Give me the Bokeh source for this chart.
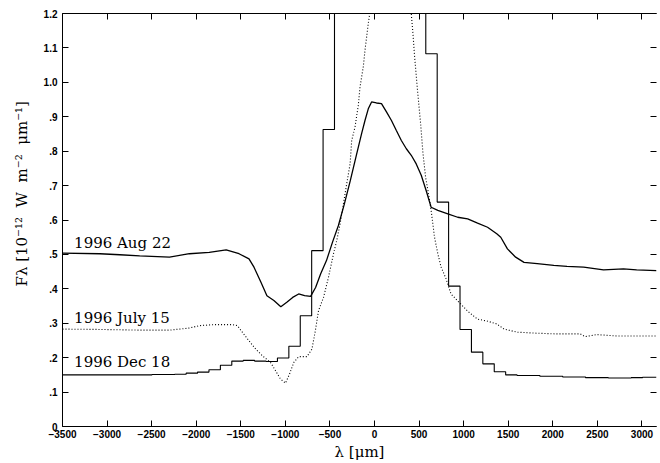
from bokeh.plotting import figure
from bokeh.models import Range1d, LinearAxis, FixedTicker, Label, CustomLabelingPolicy
from bokeh.embed import file_html
from bokeh.resources import INLINE

# ---- data ----
aug_x = [-3500, -3080, -2857, -2634, -2300, -2077, -1854, -1664, -1520, -1408, -1352, -1274,
         -1207, -1129, -1051, -984, -918, -851, -784, -717, -661, -605, -539, -472, -405,
         -338, -271, -204, -145, -107, -70, -33, 22, 78, 134, 190, 245, 301, 357, 412, 468,
         524, 580, 635, 710, 822, 933, 1045, 1156, 1268, 1371, 1416, 1491, 1583, 1677, 1825,
         2011, 2159, 2346, 2569, 2792, 2940, 3163]
aug_y = [0.504, 0.502, 0.499, 0.496, 0.492, 0.502, 0.506, 0.513, 0.502, 0.487, 0.463, 0.419,
         0.380, 0.366, 0.348, 0.361, 0.375, 0.385, 0.380, 0.378, 0.404, 0.443, 0.482, 0.535,
         0.584, 0.647, 0.715, 0.788, 0.851, 0.889, 0.923, 0.943, 0.940, 0.938, 0.914, 0.889,
         0.860, 0.831, 0.807, 0.788, 0.763, 0.730, 0.685, 0.637, 0.628, 0.618, 0.608, 0.603,
         0.591, 0.579, 0.560, 0.550, 0.516, 0.492, 0.477, 0.473, 0.468, 0.465, 0.463, 0.455,
         0.458, 0.455, 0.453]

jul_x = [-3500, -3080, -2634, -2300, -2077, -1966, -1798, -1594, -1538, -1483, -1408, -1333,
         -1260, -1166, -1110, -1055, -999, -954, -906, -851, -758, -702, -664, -628, -572,
         -516, -460, -424, -386, -349, -312, -274, -256, -219, -182, -163, -126, -107, -70,
         -51, 0, 100, 200, 300, 412, 431, 450, 479, 517, 543, 573, 599, 635, 673, 710, 747,
         803, 858, 933, 1045, 1156, 1268, 1371, 1454, 1602, 1825, 2048, 2308, 2363, 2494,
         2717, 2940, 3163]
jul_y = [0.283, 0.282, 0.280, 0.280, 0.286, 0.293, 0.296, 0.296, 0.293, 0.274, 0.249, 0.225,
         0.206, 0.186, 0.162, 0.138, 0.126, 0.152, 0.186, 0.203, 0.203, 0.225, 0.278, 0.337,
         0.375, 0.434, 0.502, 0.540, 0.589, 0.647, 0.705, 0.763, 0.831, 0.870, 0.933, 0.986,
         1.045, 1.093, 1.171, 1.205, 1.35, 1.5, 1.5, 1.35, 1.200, 1.142, 1.074, 0.986, 0.880,
         0.795, 0.724, 0.686, 0.628, 0.550, 0.502, 0.463, 0.429, 0.385, 0.365, 0.335, 0.312,
         0.306, 0.298, 0.283, 0.274, 0.271, 0.269, 0.269, 0.261, 0.267, 0.263, 0.263, 0.263]

dec_x = [-3500, -2497, -2241, -2113, -1985, -1857, -1729, -1601, -1473, -1345, -1217, -1089,
         -961, -833, -705, -577, -449, -321, -193, -65, 63, 191, 319, 447, 575, 703, 831, 959,
         1087, 1215, 1343, 1471, 1599, 1855, 2111, 2367, 2623, 2879, 3007, 3163]
dec_y = [0.150, 0.151, 0.152, 0.155, 0.158, 0.165, 0.178, 0.190, 0.192, 0.190, 0.189, 0.199,
         0.233, 0.322, 0.511, 0.863, 1.40, 1.70, 1.90, 2.00, 1.90, 1.70, 1.50, 1.30, 1.083,
         0.652, 0.408, 0.282, 0.216, 0.182, 0.159, 0.150, 0.148, 0.146, 0.144, 0.142, 0.141,
         0.142, 0.143, 0.143]

x_ticks = [-3500, -3000, -2500, -2000, -1500, -1000, -500, 0, 500, 1000, 1500, 2000, 2500, 3000]
x_tick_labels = ["\u22123500", "\u22123000", "\u22122500", "\u22122000", "\u22121500",
                 "\u22121000", "\u2212500", "0", "500", "1000", "1500", "2000", "2500", "3000"]
y_ticks = [0, 0.1, 0.2, 0.3, 0.4, 0.5, 0.6, 0.7, 0.8, 0.9, 1.0, 1.1, 1.2]
y_tick_labels = ["0", ".1", ".2", ".3", ".4", ".5", ".6", ".7", ".8", ".9", "1.0", "1.1", "1.2"]

series_labels = ["1996 Aug 22", "1996 July 15", "1996 Dec 18"]

NB = "\u00a0"
y_label = (NB * 11 + "F\u03bb" + NB + "[10\u207b\u00b9\u00b2" + NB * 2 + "W" + NB * 2 +
           "m\u207b\u00b2" + NB * 2 + "\u03bcm\u207b\u00b9]")
x_label = "\u03bb" + NB + "[\u03bcm]"

p = figure(width=660, height=463, output_backend="svg", toolbar_location=None,
           x_range=Range1d(-3500, 3163), y_range=Range1d(0, 1.2),
           min_border_left=62, min_border_right=0, min_border_top=13, min_border_bottom=37)
p.outline_line_color = None
p.xgrid.visible = False
p.ygrid.visible = False
p.background_fill_color = "white"
p.border_fill_color = "white"

xt = FixedTicker(ticks=x_ticks, minor_ticks=[])
yt = FixedTicker(ticks=y_ticks, minor_ticks=[])

bottom = p.below[0]
left = p.left[0]
bottom.ticker = xt
left.ticker = yt
bottom.major_label_overrides = {t: l for t, l in zip(x_ticks, x_tick_labels)}
left.major_label_overrides = {t: l for t, l in zip(y_ticks, y_tick_labels)}
bottom.axis_label = x_label
left.axis_label = y_label

hide = "for (const i of [...indices]) { indices.unset(i) }\nreturn indices"
top = LinearAxis(ticker=xt, major_label_text_font_size="1px", major_label_standoff=0,
                 major_label_policy=CustomLabelingPolicy(code=hide))
right = LinearAxis(ticker=yt, major_label_text_font_size="1px", major_label_standoff=0,
                   major_label_policy=CustomLabelingPolicy(code=hide), axis_line_color=None)
p.add_layout(top, "above")
p.add_layout(right, "right")

for ax in [bottom, left, top, right]:
    ax.major_tick_in = 6
    ax.major_tick_out = 0
    ax.minor_tick_in = 0
    ax.minor_tick_out = 0
    ax.major_tick_line_color = "black"
    ax.major_label_text_font = "Liberation Sans"
    ax.major_label_text_font_style = "bold"
    ax.major_label_text_color = "black"
    ax.axis_label_text_font = "DejaVu Serif"
    ax.axis_label_text_font_style = "normal"
    ax.axis_label_text_font_size = "15px"
    ax.axis_label_text_color = "black"
bottom.major_label_text_font_size = "10px"
left.major_label_text_font_size = "10px"
top.axis_line_color = "black"
bottom.axis_line_color = "black"
left.axis_line_color = "black"
bottom.major_label_standoff = 3
bottom.axis_label_standoff = 2
left.major_label_standoff = 5
left.axis_label_standoff = 10

p.step(dec_x, dec_y, mode="after", line_color="black", line_width=1.1)
p.line(aug_x, aug_y, line_color="black", line_width=1.3)
p.line(jul_x, jul_y, line_color="black", line_width=1.1, line_dash="1 2")

label_pos = [(-3370, 0.532), (-3370, 0.315), (-3370, 0.186)]
for (lx, ly), txt in zip(label_pos, series_labels):
    p.add_layout(Label(x=lx, y=ly, text=txt, text_font="DejaVu Serif", text_font_size="15px",
                       text_color="black", text_baseline="alphabetic"))

open("out.html", "w").write(file_html(p, INLINE))
